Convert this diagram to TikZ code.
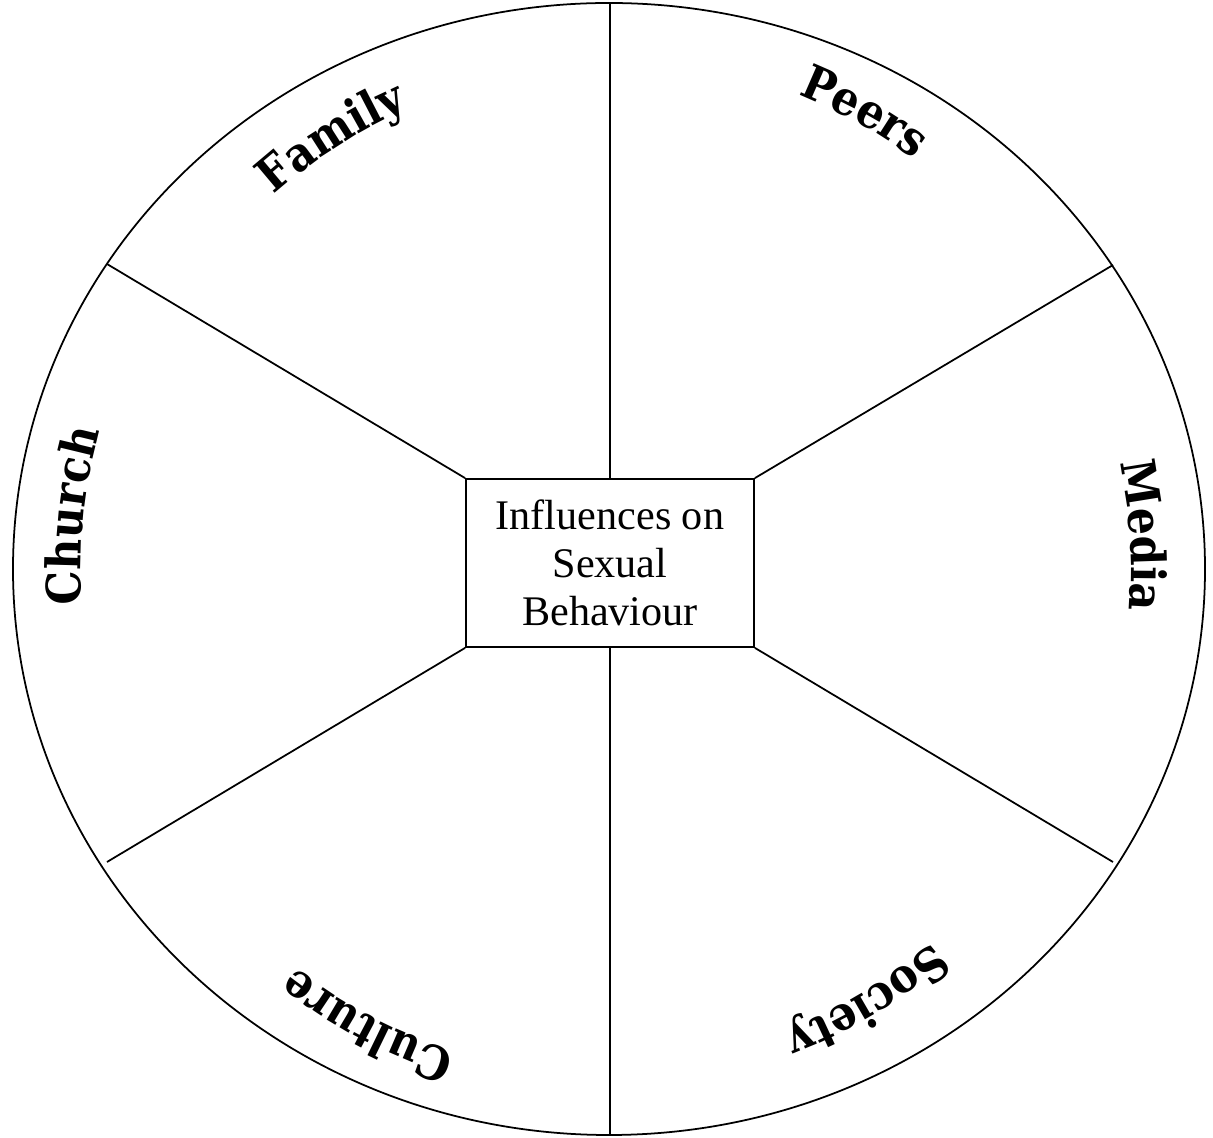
\documentclass[tikz,border=0pt]{standalone}
\usepackage{fontspec}
\setmainfont{Liberation Serif}
\newfontfamily\wheelfont{DejaVu Serif Condensed}
\usetikzlibrary{decorations.text}
\tikzset{
  rim/.style={line width=0.5pt,black},
  spoke/.style={line width=0.5pt,black},
  corebox/.style={draw,line width=0.5pt,align=center,minimum width=2.88cm,minimum height=1.68cm,inner sep=2pt,font=\fontsize{12}{13.6}\selectfont},
  arcword/.style={decorate,decoration={text along path,text align=center,text={|\wheelfont\bfseries\fontsize{13.5}{15}\selectfont|#1}}}
}

\begin{document}
\begin{tikzpicture}
\useasboundingbox (-6.09,-5.69) rectangle (6.04,5.69);
% outer wheel
\draw[rim] (0,0) ellipse [x radius=5.96, y radius=5.66];
\node[corebox] (core) at (0.01,0.06) {Influences on\\Sexual\\Behaviour};
\coordinate (rimN) at (0.01,5.66);
\coordinate (rimS) at (0.01,-5.66);
\coordinate (rimNW) at (-5.02,3.05);
\coordinate (rimNE) at (5.04,3.04);
\coordinate (rimSW) at (-5.02,-2.93);
\coordinate (rimSE) at (5.04,-2.93);
% spokes
\draw[spoke] (core.north) -- (rimN);
\draw[spoke] (core.south) -- (rimS);
\draw[spoke] (core.north west) -- (rimNW);
\draw[spoke] (core.north east) -- (rimNE);
\draw[spoke] (core.south west) -- (rimSW);
\draw[spoke] (core.south east) -- (rimSE);
% labels round the rim
\path[arcword=Family] (162.7:5.02) arc[start angle=162.7, end angle=82.7, radius=5.02];
\path[arcword=Peers] (100.8:5.11) arc[start angle=100.8, end angle=20.8, radius=5.11];
\path[arcword=Media] (43.6:5.22) arc[start angle=43.6, end angle=-36.4, radius=5.22];
\path[arcword=Society] (-19.1:4.94) arc[start angle=-19.1, end angle=-99.1, radius=4.94];
\path[arcword=Culture] (-77.9:5.07) arc[start angle=-77.9, end angle=-157.9, radius=5.07];
\path[arcword=Church] (214.3:5.28) arc[start angle=214.3, end angle=134.3, radius=5.28];
\end{tikzpicture}
\end{document}
